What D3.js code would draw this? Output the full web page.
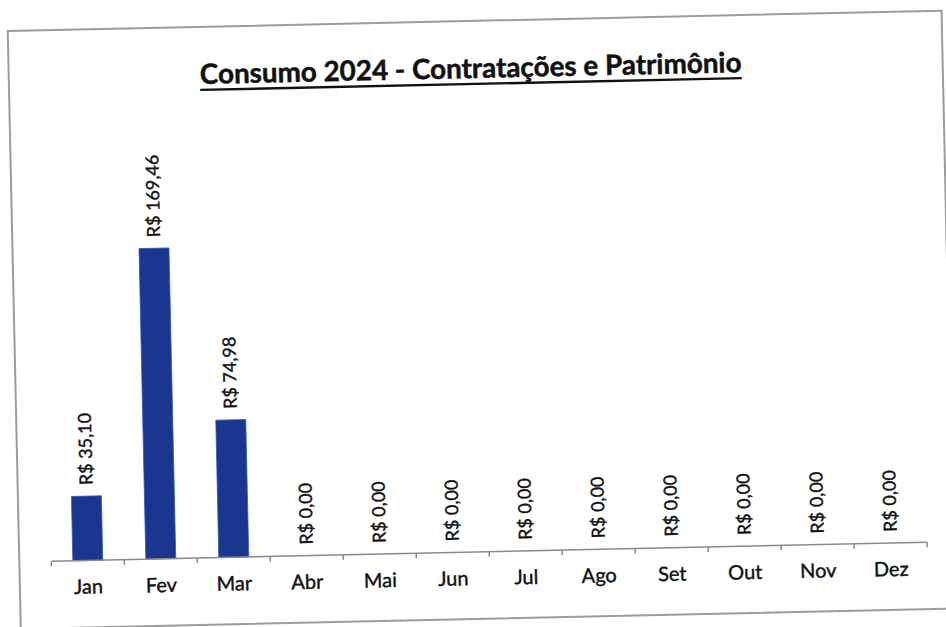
<!DOCTYPE html>
<html>
<head>
<meta charset="utf-8">
<script src="https://cdn.jsdelivr.net/npm/d3@7"></script>
<style>
  body{margin:0;background:#fff;}
  text{font-family:Lato,"Noto Sans",sans-serif;fill:#111;}
</style>
</head>
<body>
<svg width="946" height="627"></svg>
<script>
const months=['Jan','Fev','Mar','Abr','Mai','Jun','Jul','Ago','Set','Out','Nov','Dez'];
const values=[35.10,169.46,74.98,0,0,0,0,0,0,0,0,0];
const titleText='Consumo 2024 - Contratações e Patrimônio';

const svg=d3.select('svg');
const width=+svg.attr('width');
const height=+svg.attr('height');
const fmt=v=>'R$ '+d3.format('.2f')(v).replace('.',',');

// the scanned page is a little tilted
const page=svg.append('g')
  .attr('transform',`rotate(-1.25,${width/2},${height/2})`);

// frame of the chart area
page.append('rect')
  .attr('x',14).attr('y',21)
  .attr('width',934).attr('height',598)
  .attr('fill','none')
  .attr('stroke','#9c9c9c')
  .attr('stroke-width',2);

/* title */
const title=page.append('text')
  .attr('x',476).attr('y',78)
  .attr('text-anchor','middle')
  .attr('font-weight','bold')
  .attr('font-size',28)
  .attr('stroke','#111')
  .attr('stroke-width',0.5)
  .text(titleText);
// fit the title to the width seen on the scan
const tLen=title.node().getComputedTextLength();
title.attr('font-size',28*542/tLen);
const tb=title.node().getBBox();
page.append('line')
  .attr('x1',tb.x).attr('x2',tb.x+tb.width)
  .attr('y1',84).attr('y2',84)
  .attr('stroke','#111')
  .attr('stroke-width',2.4);

/* scales */
const xScale=d3.scaleBand()
  .domain(months)
  .range([46,922])
  .paddingInner(0.59)
  .paddingOuter(0.295);
const yScale=d3.scaleLinear()
  .domain([0,180])
  .range([552,222]);

/* bars */
page.selectAll('rect.bar')
  .data(values)
  .enter()
  .append('rect')
  .attr('class','bar')
  .attr('x',(d,i)=>xScale(months[i]))
  .attr('y',d=>yScale(d))
  .attr('width',xScale.bandwidth())
  .attr('height',d=>yScale(0)-yScale(d))
  .attr('fill','#1a368e')
  .attr('stroke','#3157bd')
  .attr('stroke-width',0.8);

/* x-axis */
const xAxis=d3.axisBottom(xScale)
  .tickSize(0)
  .tickPadding(19);
const gx=page.append('g')
  .attr('transform',`translate(0,${yScale(0)})`)
  .call(xAxis);
gx.select('.domain').remove();
gx.selectAll('text')
  .attr('font-size',20)
  .attr('font-family','Lato,"Noto Sans",sans-serif')
  .attr('fill','#111')
  .attr('stroke','#111')
  .attr('stroke-width',0.4);

const [x0,x1]=xScale.range();
gx.append('line')
  .attr('x1',x0).attr('x2',x1)
  .attr('stroke','#8a8a8a').attr('stroke-width',1.5);
gx.selectAll('line.tk')
  .data(d3.range(months.length+1))
  .enter()
  .append('line')
  .attr('class','tk')
  .attr('x1',i=>x0+i*xScale.step())
  .attr('x2',i=>x0+i*xScale.step())
  .attr('y1',0).attr('y2',5)
  .attr('stroke','#8a8a8a').attr('stroke-width',1.5);

/* value labels, vertical */
page.selectAll('text.lbl')
  .data(values)
  .enter()
  .append('text')
  .attr('class','lbl')
  .attr('transform',(d,i)=>`translate(${xScale(months[i])+xScale.bandwidth()/2},${yScale(d)-11}) rotate(-90)`)
  .attr('dy','0.35em')
  .attr('font-size',18)
  .attr('stroke','#111')
  .attr('stroke-width',0.4)
  .text(d=>fmt(d));
</script>
</body>
</html>
